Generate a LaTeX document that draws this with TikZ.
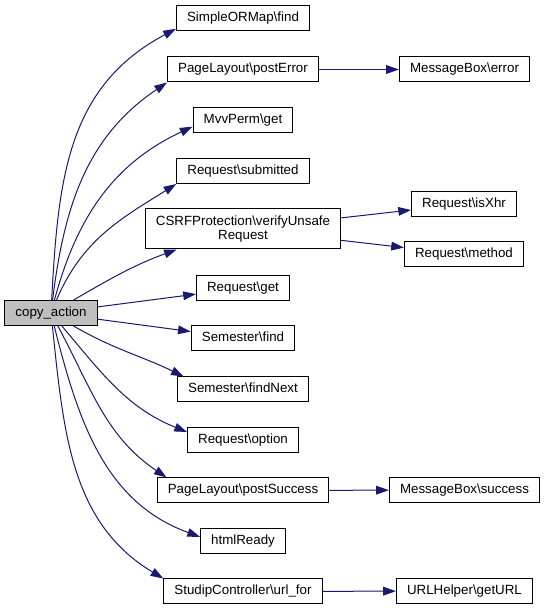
\documentclass[tikz,border=0pt]{standalone}
\usepackage{fontspec}
\setmainfont{Liberation Sans}
\usepackage{xcolor}
\usepackage{tikz}
\usetikzlibrary{arrows.meta}

\definecolor{midnightblue}{HTML}{191970}
\definecolor{rootgray}{HTML}{BFBFBF}
\newcommand{\bsl}{\textbackslash}

\begin{document}
\begin{tikzpicture}[x=0.75pt,y=0.75pt,
    box/.style={draw=black,fill=white,line width=0.75pt,minimum height=18.75pt,
        inner xsep=8pt,inner ysep=2pt,font=\fontsize{10}{11}\selectfont},
    fn/.style={box,text height=7.4pt,text depth=2.3pt},
    call/.style={draw=midnightblue,line width=0.75pt,
        -{Triangle[length=9.5pt,width=6.5pt]},fill=none}]
\useasboundingbox (0,0) rectangle (545,611);

% Caller
\node[fn,fill=rootgray] (ca) at (51,298) {copy\_action};

% Called functions
\node[fn] (sf) at (243,592.5) {SimpleORMap\bsl find};
\node[fn] (pe) at (243,541.5) {PageLayout\bsl postError};
\node[fn] (mg) at (243,491) {MvvPerm\bsl get};
\node[fn] (rs) at (243,440) {Request\bsl submitted};
\node[box,align=center,minimum height=30pt] (cv) at (243,382) {CSRFProtection\bsl verifyUnsafe\\Request};
\node[fn] (rg) at (243,323) {Request\bsl get};
\node[fn] (sm) at (243,272.5) {Semester\bsl find};
\node[fn] (sn) at (243,221.5) {Semester\bsl findNext};
\node[fn] (ro) at (243,171) {Request\bsl option};
\node[fn] (ps) at (243,120.5) {PageLayout\bsl postSuccess};
\node[fn] (hr) at (243,69.5) {htmlReady};
\node[fn] (uf) at (243,19.5) {StudipController\bsl url\_for};

% Second level
\node[fn] (me) at (464.5,541.5) {MessageBox\bsl error};
\node[fn] (rx) at (464,407) {Request\bsl isXhr};
\node[fn] (rm) at (464,356.5) {Request\bsl method};
\node[fn] (ms) at (464.5,121) {MessageBox\bsl success};
\node[fn] (ug) at (464.5,20) {URLHelper\bsl getURL};

% Curved calls from copy_action
\draw[call] (ca) to[out=87,in=208,looseness=1.05] ([yshift=2pt]sf.south west);
\draw[call] (ca) to[out=83,in=214] (pe.south west);
\draw[call] (ca) to[out=75,in=205] ([yshift=-5pt]mg.west);
\draw[call] (ca) to[out=67,in=212] (rs.south west);
\draw[call] (ca) to[out=30,in=200] ([xshift=24pt]cv.south west);
\draw[call] (ca) to[out=-30,in=154] ([xshift=5pt]sn.north west);
\draw[call] (ca) to[out=-50,in=158] ([yshift=6pt]ro.west);
\draw[call] (ca) to[out=-62,in=146] ([xshift=7.5pt]ps.north west);
\draw[call] (ca) to[out=-76,in=160] ([yshift=3.5pt]hr.west);
\draw[call] (ca) to[out=-84,in=149] (uf.north west);

% Straight calls
\foreach \from/\to in {ca/rg,ca/sm,pe/me,cv/rx,cv/rm,ps/ms,uf/ug} {
    \draw[call] (\from) -- (\to);
}
\end{tikzpicture}
\end{document}
